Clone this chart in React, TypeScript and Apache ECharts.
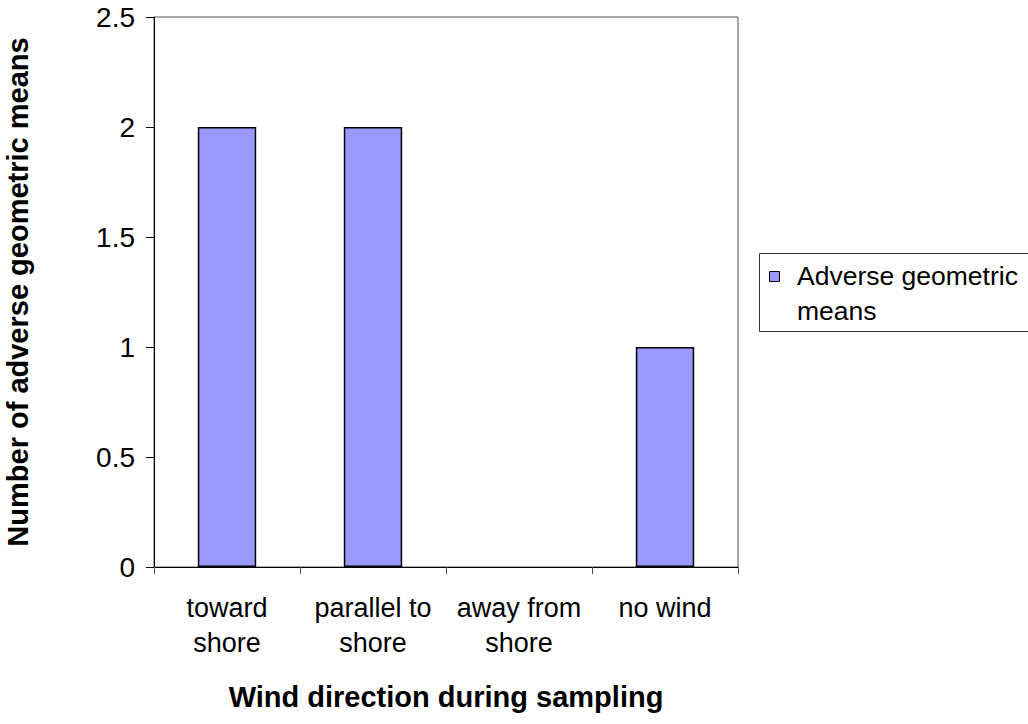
import React, { useEffect, useRef } from "react";
import * as echarts from "echarts";

const categories = ["toward\nshore", "parallel to\nshore", "away from\nshore", "no wind"];
const adverseMeans = [2, 2, 0, 1];
const seriesName = "Adverse geometric means";
const legendLines = ["Adverse geometric", "means"];
const xTitle = "Wind direction during sampling";
const yTitle = "Number of adverse geometric means";

const FONT = "Arial, 'Liberation Sans', Helvetica, sans-serif";
const BAR_COLOR = "#9999ff";

export default function App() {
  const ref = useRef<HTMLDivElement>(null);

  useEffect(() => {
    if (!ref.current) return;
    const chart = echarts.init(ref.current, undefined, { renderer: "svg" });
    // a zero-height bar shows no outline
    const barData = adverseMeans.map((v) =>
      v === 0 ? { value: v, itemStyle: { borderWidth: 0 } } : v
    );
    chart.setOption({
      animation: false,
      backgroundColor: "#ffffff",
      textStyle: { fontFamily: FONT, color: "#000" },
      grid: {
        left: 154,
        top: 17,
        right: 290,
        bottom: 157,
        outerBoundsMode: "none",
        containLabel: false,
        show: true,
        borderColor: "#555",
        borderWidth: 1,
        backgroundColor: "transparent",
      },
      xAxis: {
        type: "category",
        data: categories,
        name: xTitle,
        nameLocation: "middle",
        nameGap: 115,
        nameTextStyle: { fontFamily: FONT, fontSize: 29, fontWeight: "bold", color: "#000" },
        axisLine: { lineStyle: { color: "#000", width: 1 } },
        axisTick: { show: true, length: 7, lineStyle: { color: "#555" } },
        axisLabel: {
          fontFamily: FONT,
          fontSize: 27,
          color: "#000",
          lineHeight: 35,
          margin: 23,
          interval: 0,
        },
        splitLine: { show: false },
      },
      yAxis: {
        type: "value",
        min: 0,
        max: 2.5,
        interval: 0.5,
        name: yTitle,
        nameLocation: "middle",
        nameRotate: 90,
        nameGap: 122,
        nameTextStyle: { fontFamily: FONT, fontSize: 29, fontWeight: "bold", color: "#000" },
        axisLine: { show: true, lineStyle: { color: "#000", width: 1 } },
        axisTick: { show: true, length: 8, lineStyle: { color: "#000" } },
        axisLabel: { fontFamily: FONT, fontSize: 28, color: "#000", margin: 19 },
        splitLine: { show: false },
      },
      series: [
        {
          name: seriesName,
          type: "bar",
          data: barData,
          barWidth: "40%",
          itemStyle: { color: BAR_COLOR, borderColor: "#000", borderWidth: 1.5 },
        },
      ],
      graphic: [
        {
          type: "rect",
          shape: { x: 759.5, y: 253.5, width: 300, height: 78 },
          style: { fill: "#fff", stroke: "#333", lineWidth: 1 },
        },
        {
          type: "rect",
          shape: { x: 769.5, y: 271.5, width: 10, height: 10 },
          style: { fill: BAR_COLOR, stroke: "#000", lineWidth: 1 },
        },
        {
          type: "text",
          x: 797,
          y: 276,
          style: {
            text: legendLines[0],
            fontFamily: FONT,
            fontSize: 26.5,
            fill: "#000",
            verticalAlign: "middle",
          },
        },
        {
          type: "text",
          x: 797,
          y: 311,
          style: {
            text: legendLines[1],
            fontFamily: FONT,
            fontSize: 26.5,
            fill: "#000",
            verticalAlign: "middle",
          },
        },
      ],
    });
    return () => chart.dispose();
  }, []);

  return (
    <div
      ref={ref}
      style={{ position: "fixed", left: 0, top: 0, width: 1028, height: 724, background: "#fff" }}
    />
  );
}
